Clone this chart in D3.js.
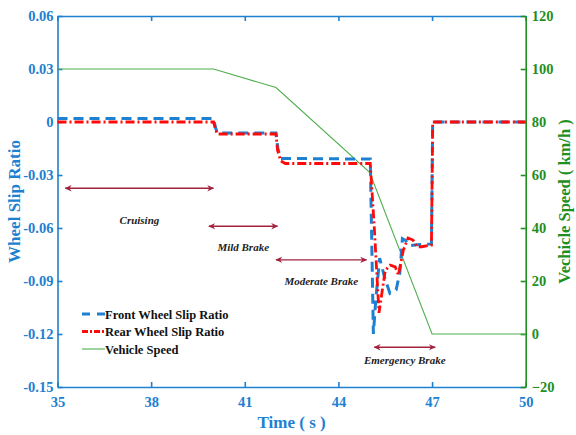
<!DOCTYPE html>
<html>
<head>
<meta charset="utf-8">
<script src="https://cdn.jsdelivr.net/npm/d3@7"></script>
<style>
  body { margin: 0; background: #fff; }
  svg { display: block; }
</style>
</head>
<body>
<svg id="chart"></svg>
<script>
// data
const timeTicks = [35, 38, 41, 44, 47, 50]
const slipTicks = [-0.15, -0.12, -0.09, -0.06, -0.03, 0, 0.03, 0.06]
const speedTicks = [-20, 0, 20, 40, 60, 80, 100, 120]

const frontT = [35, 40, 40.06, 40.12, 42, 42.06, 42.15, 45.02, 45.07, 45.12, 45.2, 45.32, 45.48, 45.65, 45.85, 45.97, 46.05, 46.15, 46.28, 46.5, 46.98, 47.0, 47.02, 50]
const frontV = [0.002, 0.002, -0.003, -0.0062, -0.0062, -0.015, -0.0206, -0.021, -0.07, -0.12, -0.1, -0.077, -0.088, -0.097, -0.095, -0.085, -0.066, -0.067, -0.07, -0.0695, -0.069, -0.035, 0, 0]

const rearT = [35, 40, 40.06, 40.12, 42, 42.05, 42.15, 42.3, 45.02, 45.15, 45.3, 45.5, 45.66, 45.82, 45.92, 46.08, 46.23, 46.39, 46.51, 46.67, 46.98, 47.0, 47.02, 50]
const rearV = [0, 0, -0.004, -0.0068, -0.0068, -0.016, -0.022, -0.0235, -0.0235, -0.06, -0.108, -0.084, -0.081, -0.082, -0.0866, -0.0725, -0.0657, -0.0668, -0.0706, -0.0706, -0.0696, -0.035, 0, 0]

const speedT = [35, 40, 42, 45, 47, 50]
const speedV = [100, 100, 93, 61, 0, 0]

const phaseNames = ["Cruising", "Mild Brake", "Moderate Brake", "Emergency Brake"]
const phaseStart = [35.25, 39.85, 42.0, 45.15]
const phaseEnd = [40.0, 42.05, 44.9, 47.1]
const phaseLevel = [-0.0375, -0.059, -0.078, -0.1275]
const phaseLabelLevel = [-0.058, -0.073, -0.092, -0.137]

const legendNames = ["Front Wheel Slip Ratio", "Rear Wheel Slip Ratio", "Vehicle Speed"]

// layout
const W = 576, H = 435
const m = {left: 57.5, right: 50.3, top: 16, bottom: 48}
const blue = "#1e80d0", green = "#1f8f1f", red = "#ff0a0a", arrowCol = "#a3233f"
const serif = "'Liberation Serif', 'Times New Roman', serif"

const svg = d3.select("#chart").attr("width", W).attr("height", H)
  .style("font-family", serif)

const x = d3.scaleLinear().domain([35, 50]).range([m.left, W - m.right])
const y = d3.scaleLinear().domain([-0.15, 0.06]).range([H - m.bottom, m.top])
const y2 = d3.scaleLinear().domain([-20, 120]).range([H - m.bottom, m.top])

// arrow markers
const defs = svg.append("defs")
defs.append("marker").attr("id", "ah").attr("viewBox", "0 0 10 10")
  .attr("refX", 9).attr("refY", 5).attr("markerWidth", 7).attr("markerHeight", 7)
  .attr("markerUnits", "userSpaceOnUse").attr("orient", "auto-start-reverse")
  .append("path").attr("d", "M0,0.5 L10,5 L0,9.5 L3,5 Z").attr("fill", arrowCol)

// axes
function styleAxis(g, col, size) {
  g.attr("font-family", serif)
  g.selectAll("path, line").attr("stroke", col).attr("stroke-width", 1.6)
  g.selectAll("text").attr("fill", col).style("font-family", serif)
    .style("font-weight", "bold").style("font-size", size + "px")
}

svg.append("g").attr("transform", `translate(0,${m.top})`)
  .call(d3.axisTop(x).tickValues(timeTicks).tickSize(-5).tickSizeOuter(0).tickFormat(""))
  .call(g => styleAxis(g, blue, 14))

svg.append("g").attr("transform", `translate(0,${H - m.bottom})`)
  .call(d3.axisBottom(x).tickValues(timeTicks).tickSize(-5).tickSizeOuter(0).tickPadding(10))
  .call(g => styleAxis(g, blue, 14.5))

svg.append("g").attr("transform", `translate(${m.left},0)`)
  .call(d3.axisLeft(y).tickValues(slipTicks).tickSize(-5).tickSizeOuter(0).tickPadding(4)
    .tickFormat(d => Math.abs(d) < 1e-9 ? "0" : d.toFixed(2)))
  .call(g => styleAxis(g, blue, 14.5))

svg.append("g").attr("transform", `translate(${W - m.right},0)`)
  .call(d3.axisRight(y2).tickValues(speedTicks).tickSize(-5).tickSizeOuter(0).tickPadding(6))
  .call(g => styleAxis(g, green, 14.5))

// axis titles
svg.append("text").attr("transform", `translate(20,${(m.top + H - m.bottom) / 2}) rotate(-90)`)
  .attr("text-anchor", "middle").attr("fill", blue)
  .style("font-weight", "bold").style("font-size", "17px").text("Wheel Slip Ratio")

svg.append("text").attr("transform", `translate(570,${(m.top + H - m.bottom) / 2}) rotate(-90)`)
  .attr("text-anchor", "middle").attr("fill", green)
  .style("font-weight", "bold").style("font-size", "16.5px").text("Vechicle Speed ( km/h )")

svg.append("text").attr("x", (x(35) + x(50)) / 2).attr("y", 428)
  .attr("text-anchor", "middle").attr("fill", blue)
  .style("font-weight", "bold").style("font-size", "17px").text("Time ( s )")

// lines
const lineSlip = d3.line().x(d => x(d[0])).y(d => y(d[1]))
const lineSpeed = d3.line().x(d => x(d[0])).y(d => y2(d[1]))

svg.append("path").datum(speedT.map((t, i) => [t, speedV[i]]))
  .attr("d", lineSpeed).attr("fill", "none").attr("stroke", "#4fae4f").attr("stroke-width", 1.1)

svg.append("path").datum(frontT.map((t, i) => [t, frontV[i]]))
  .attr("d", lineSlip).attr("fill", "none").attr("stroke", blue)
  .attr("stroke-width", 3).attr("stroke-dasharray", "10,6")

svg.append("path").datum(rearT.map((t, i) => [t, rearV[i]]))
  .attr("d", lineSlip).attr("fill", "none").attr("stroke", red)
  .attr("stroke-width", 2.8).attr("stroke-dasharray", "9,3,2,3")

// phase annotations
phaseNames.forEach((name, i) => {
  svg.append("line")
    .attr("x1", x(phaseStart[i])).attr("x2", x(phaseEnd[i]))
    .attr("y1", y(phaseLevel[i])).attr("y2", y(phaseLevel[i]))
    .attr("stroke", arrowCol).attr("stroke-width", 1.3)
    .attr("marker-start", "url(#ah)").attr("marker-end", "url(#ah)")
  svg.append("text")
    .attr("x", x((phaseStart[i] + phaseEnd[i]) / 2)).attr("y", y(phaseLabelLevel[i]))
    .attr("text-anchor", "middle").attr("fill", "#222")
    .style("font-style", "italic").style("font-weight", "bold").style("font-size", "11px")
    .text(name)
})

// legend
const legend = svg.append("g").attr("transform", "translate(82,314)")
const legStroke = [blue, red, "#4fae4f"]
const legDash = ["8,7", "6,2,2,2", null]
const legWidth = [2.8, 2.8, 1.1]
legendNames.forEach((name, i) => {
  const row = legend.append("g").attr("transform", `translate(0,${i * 17.5})`)
  row.append("line").attr("x1", 0).attr("x2", 23).attr("y1", 0).attr("y2", 0)
    .attr("stroke", legStroke[i]).attr("stroke-width", legWidth[i])
    .attr("stroke-dasharray", legDash[i])
  row.append("text").attr("x", 23).attr("y", 4.5).attr("fill", "#111")
    .style("font-weight", "bold").style("font-size", "12.5px").text(name)
})
</script>
</body>
</html>
